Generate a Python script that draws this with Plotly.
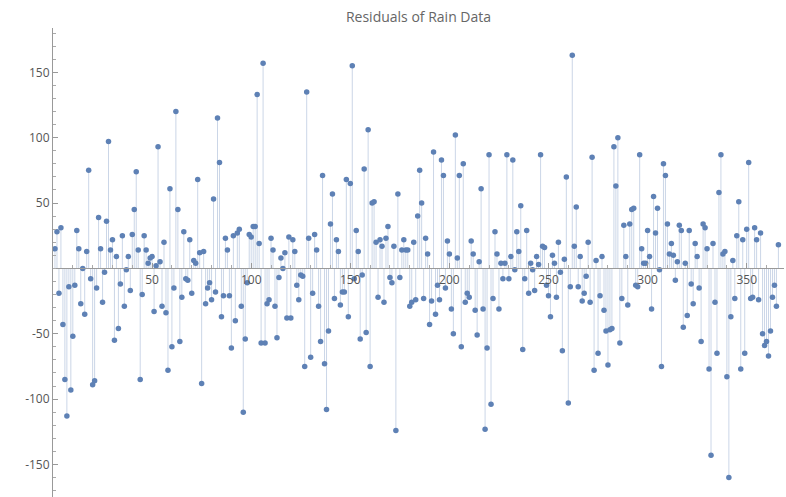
import plotly.graph_objects as go

# Residual values, day 1..366
q1 = [15, 28, -19, 31, -43, -85, -113, -14, -93, -52, -13, 29, 15, -27, 0, -35, 13, 75, -8, -89,
      -86, -15, 39, 15, -26, -3, 36, 97, 14, 22, -55, 9, -46, -12, 25, -29, -1, 9, -17, 26,
      45, 74, 14, -85, -20, 25, 14, 4, 8, 9, -33, 2, 93, 5, -29, 20, -34, -78, 61, -60,
      -15, 120, 45, -56, -22, 28, -8, -9, 22, -19, 6, 4, 68, 12, -88, 13, -27, -15, -11, -24,
      53, -18, 115, 81, -37, -21, 23, 14, -21, -61, 25]
q2 = [-40, 27, 30, -29, -110, -54, -11, 26, 24, 32, 32, 133, 19, -57, 157, -57, -27, -24, 23,
      14, -29, -53, -7, 8, 0, 12, -38, 24, -38, 22, 13, -13, -24, -5, -6, -75, 135, 23, -68,
      -19, 26, 14, -29, -56, 71, -73, -108, -48, 34, 57, -23, 22, 13, -28, -18, -18, 68, -37,
      65, 155, -8, 29, 13, -54, -5, 76, -49, 106, -75, 50, 51, 20, -22, 22, 17, -26, 23, 32,
      -7, -11, 17, -124, 57, -7, 14, 22, 14, 14, -29, -26, 20]
q3 = [-24, 40, 75, 50, -23, 23, 11, -43, -25, 89, -35, -13, -24, 83, 71, -15, 21, 11, -31,
      -50, 102, 8, 71, -60, 80, -26, -19, -22, 21, 11, -32, -51, 5, 61, -31, -123, -61, 87,
      -104, -23, 28, 11, -31, 4, -8, 4, 87, -8, 9, 83, -1, 28, 13, 48, -62, -8, 29, -19, 4,
      -1, -17, 9, 3, 87, 17, 16, -13, -21, -37, 10, 4, -22, 20, -3, -63, 7, 70, -103, -14,
      163, 17, 47, -14, 9, -25, -19, -6, 20, -26, 85, -78]
q4 = [6, -65, -21, 9, -32, -48, -74, -47, -46, 93, 63, 100, -57, -23, 33, 9, -28, 34, 45, 46,
      -13, -14, 87, 15, 4, 4, 29, 9, -31, 55, 27, 46, -1, -75, 80, 71, 34, 11, 19, 10, -9, 5,
      33, 29, -45, 4, -36, 29, -12, -27, 19, 9, -15, -56, 34, 31, 15, -77, -143, 19, -26,
      -65, 58, 87, 11, 13, -83, -160, -37, 6, -23, 25, 51, -77, 22, -65, 30, 81, -23, -22,
      31, 22, -24, 27, -50, -59, -56, -67, -48, -22, -13, -29, 18]

values = q1 + q2 + q3 + q4
days = list(range(1, len(values) + 1))

y_ticks = [-150, -100, -50, 50, 100, 150]
x_ticks = [50, 100, 150, 200, 250, 300, 350]

stem_x, stem_y = [], []
for d, v in zip(days, values):
    stem_x += [d, d, None]
    stem_y += [0, v, None]

blue = "#5E81B5"
fig = go.Figure()
fig.add_trace(go.Scatter(x=stem_x, y=stem_y, mode="lines",
                         line=dict(color="rgba(94,129,181,0.32)", width=1),
                         hoverinfo="skip", showlegend=False))
fig.add_trace(go.Scatter(x=days, y=values, mode="markers",
                         marker=dict(color=blue, size=5.5), showlegend=False))

W, H = 786, 497
ml, mr, mt, mb = 53, 2, 28, 0
ymin, ymax = -174.9, 183.9
fig.update_layout(
    width=W, height=H,
    margin=dict(l=ml, r=mr, t=mt, b=mb),
    paper_bgcolor="white", plot_bgcolor="white",
    font=dict(family="Open Sans, DejaVu Sans, sans-serif", size=12, color="#555"),
    title=dict(text="Residuals of Rain Data", x=0.5, xanchor="center", xref="paper",
               y=1 - 17 / H, yref="container", yanchor="middle",
               font=dict(size=14, color="#666")),
    xaxis=dict(range=[0, (W - ml - mr) / 1.982], anchor="free",
               position=(0 - ymin) / (ymax - ymin),
               showline=True, linecolor="#999", linewidth=1,
               showgrid=False, zeroline=False,
               tickvals=x_ticks, ticktext=[str(t) for t in x_ticks],
               ticks="inside", ticklen=5, tickcolor="#999",
               minor=dict(dtick=10, tick0=0, ticks="inside", ticklen=3, tickcolor="#aaa"),
               tickfont=dict(size=12, color="#555")),
    yaxis=dict(range=[ymin, ymax], showline=True, linecolor="#999", linewidth=1,
               showgrid=False, zeroline=False,
               tickvals=y_ticks, ticktext=[str(t).replace("-", "-") for t in y_ticks],
               ticks="inside", ticklen=5, tickcolor="#999",
               minor=dict(dtick=10, tick0=0, ticks="inside", ticklen=3, tickcolor="#aaa"),
               tickfont=dict(size=12, color="#555")),
)

fig.write_html("out.html")
